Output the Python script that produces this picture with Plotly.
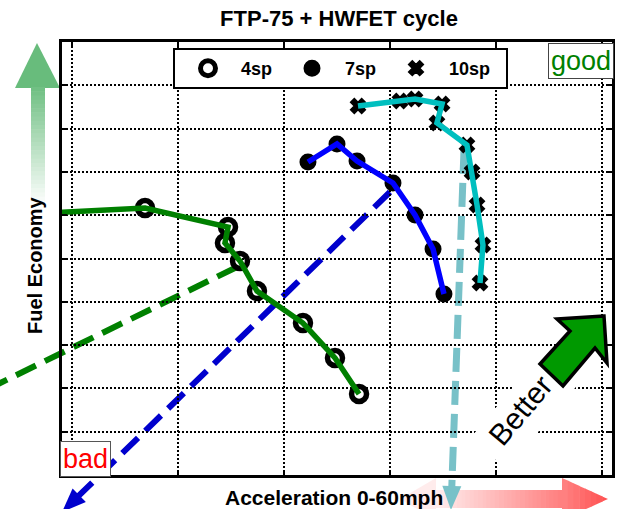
import math
import plotly.graph_objects as go

W, H = 621, 509
FONT = "Liberation Sans, Arial, sans-serif"

# ---------------- data (x: acceleration grid units, y: fuel-economy grid units) ----------------
sp4_x = [-0.40, 0.689, 1.472, 1.443, 1.585, 1.745, 2.179, 2.481, 2.708]
sp4_y = [6.03, 6.166, 5.727, 5.358, 4.942, 4.249, 3.510, 2.702, 1.871]

sp7_x = [2.226, 2.500, 2.689, 3.028, 3.236, 3.406, 3.509]
sp7_y = [7.229, 7.644, 7.252, 6.744, 6.005, 5.219, 4.180]

sp10_x = [2.698, 3.094, 3.236, 3.491, 3.443, 3.726, 3.774, 3.821, 3.877, 3.849]
sp10_y = [8.522, 8.637, 8.684, 8.568, 8.129, 7.621, 6.998, 6.236, 5.312, 4.434]

# dashed guide lines (start -> end), with or without arrow head
guide_start_x = [1.557, 3.000, 3.698]
guide_start_y = [4.804, 6.536, 7.506]
guide_end_x = [-0.774, -0.094, 3.575]
guide_end_y = [2.009, -0.855, -0.808]
guide_arrow = [False, True, True]

# ---------------- layout geometry (pixels) ----------------
GX0, GDX = 72.0, 106.0      # pixel of x=0 gridline, pixels per x unit
GY0, GDY = 475.0, 43.3      # pixel of y=0, pixels per y unit
AX_L, AX_R, AX_T, AX_B = 62, 612, 42, 475


def X(px):
    return (px - GX0) / GDX


def Y(py):
    return (GY0 - py) / GDY


def to_px(x, y):
    return GX0 + GDX * x, GY0 - GDY * y


def PX(px):
    return px / W


def PY(py):
    return 1 - py / H


GREEN = "rgb(0,128,0)"
BLUE = "rgb(0,0,255)"
CYAN = "rgb(0,191,191)"
guide_colors = [GREEN, "rgb(0,0,205)", "rgb(120,193,200)"]
guide_widths = [6, 6, 7]
guide_dash = ["22px,10px", "22px,10px", "24px,9px"]

fig = go.Figure()

# ---------------- overlay subplot (whole figure, same scale) : dashed guides ----------------
for i in range(3):
    x0, y0 = guide_start_x[i], guide_start_y[i]
    x1, y1 = guide_end_x[i], guide_end_y[i]
    ex, ey = x1, y1
    if guide_arrow[i]:
        p0 = to_px(x0, y0)
        p1 = to_px(x1, y1)
        dx, dy = p1[0] - p0[0], p1[1] - p0[1]
        n = (dx * dx + dy * dy) ** 0.5
        ux, uy = dx / n, dy / n
        L, Wd = 24, 19
        bx, by = p1[0] - L * ux, p1[1] - L * uy
        nx, ny = -uy, ux
        hx = [p1[0], bx + nx * Wd / 2, bx - nx * Wd / 2, p1[0]]
        hy = [p1[1], by + ny * Wd / 2, by - ny * Wd / 2, p1[1]]
        ex, ey = X(bx + ux * 2), Y(by + uy * 2)
        fig.add_trace(go.Scatter(
            x=[X(v) for v in hx], y=[Y(v) for v in hy], mode="lines",
            fill="toself", fillcolor=guide_colors[i], line=dict(width=0, color=guide_colors[i]),
            xaxis="x", yaxis="y", showlegend=False, hoverinfo="skip"))
    fig.add_trace(go.Scatter(
        x=[x0, ex], y=[y0, ey], mode="lines",
        line=dict(color=guide_colors[i], width=guide_widths[i], dash=guide_dash[i]),
        xaxis="x", yaxis="y", showlegend=False, hoverinfo="skip"))

# ---------------- main subplot : markers (legend) then lines on top ----------------
fig.add_trace(go.Scatter(
    x=sp4_x, y=sp4_y, mode="markers", name="4sp",
    marker=dict(symbol="circle-open", size=15, color="black", line=dict(width=5.5, color="black")),
    xaxis="x2", yaxis="y2"))
fig.add_trace(go.Scatter(
    x=sp7_x, y=sp7_y, mode="markers", name="7sp",
    marker=dict(symbol="circle", size=14, color="black", line=dict(width=3, color="black")),
    xaxis="x2", yaxis="y2"))
fig.add_trace(go.Scatter(
    x=sp10_x, y=sp10_y, mode="markers", name="10sp", legendwidth=52,
    marker=dict(symbol="x", size=13, color="black", line=dict(width=1.5, color="black")),
    xaxis="x2", yaxis="y2"))
for xs, ys, c in [(sp4_x, sp4_y, GREEN), (sp7_x, sp7_y, BLUE), (sp10_x, sp10_y, CYAN)]:
    fig.add_trace(go.Scatter(
        x=xs, y=ys, mode="lines", line=dict(color=c, width=5.5),
        xaxis="x2", yaxis="y2", showlegend=False, hoverinfo="skip"))

# ---------------- decorative shapes ----------------
shapes = []


def poly(pts, fill, lw=0, lc=None, layer="below"):
    d = "M " + " L ".join(f"{PX(a):.5f},{PY(b):.5f}" for a, b in pts) + " Z"
    shapes.append(dict(type="path", path=d, xref="paper", yref="paper",
                       fillcolor=fill, line=dict(width=lw, color=lc or fill), layer=layer))


def mix(c1, c2, t):
    return "rgb(%d,%d,%d)" % tuple(round(a + (b - a) * t) for a, b in zip(c1, c2))


# green vertical gradient arrow (left)
g_top, white = (104, 188, 124), (255, 255, 255)
poly([(37, 43), (60, 88), (15, 88)], mix(g_top, white, 0.0))
n = 28
y_a, y_b = 87.0, 205.0
for k in range(n):
    ya = y_a + (y_b - y_a) * k / n
    yb = y_a + (y_b - y_a) * (k + 1) / n + 0.6
    poly([(31, ya), (45, ya), (45, yb), (31, yb)], mix(g_top, white, 0.06 + 0.92 * k / (n - 1)))

# red horizontal gradient arrow (bottom)
r_light, r_mid, r_dark = (255, 236, 236), (255, 128, 128), (255, 82, 82)
poly([(400, 499), (436, 478), (436, 520)], mix(r_light, r_light, 0))
n = 30
xa, xb = 436.0, 562.0
for k in range(n):
    a = xa + (xb - xa) * k / n
    b = xa + (xb - xa) * (k + 1) / n + 0.6
    poly([(a, 490), (b, 490), (b, 508), (a, 508)], mix(r_light, r_mid, k / (n - 1)))
n = 8
for k in range(n):
    a = 562 + 46 * k / n
    b = 562 + 46 * (k + 1) / n + (0.5 if k < n - 1 else 0)
    ha = 21 * (608 - a) / 46
    hb = max(21 * (608 - b) / 46, 0)
    poly([(a, 499 - ha), (b, 499 - hb), (b, 499 + hb), (a, 499 + ha)], mix(r_mid, r_dark, k / (n - 1)))

# white (rotated) text box behind "Better", then the block arrow on top of it
BET_CX, BET_CY, BET_ANG = 520, 410, 50
ux, uy = math.cos(math.radians(BET_ANG)), -math.sin(math.radians(BET_ANG))
vx, vy = -uy, ux
box = []
for a, b in [(62, -20), (62, 28), (-54, 28), (-54, -20)]:
    box.append((BET_CX + a * ux + b * vx, BET_CY + a * uy + b * vy))
poly(box, "white", layer="above")
poly([(604, 316), (557, 319), (570, 331), (540, 364), (563, 386), (595, 348), (607, 363)],
     "rgb(0,153,0)", lw=3.5, lc="black", layer="above")

# ---------------- axes ----------------
axis_common = dict(showline=True, linewidth=3, linecolor="black", mirror="ticks",
                   ticks="inside", ticklen=5, tickwidth=2, tickcolor="black",
                   showticklabels=False, showgrid=True, gridcolor="black", gridwidth=1.6,
                   griddash="2px,2px", zeroline=False, fixedrange=True, dtick=1, tick0=0)

fig.update_layout(
    width=W, height=H,
    margin=dict(l=0, r=0, t=0, b=0),
    paper_bgcolor="white", plot_bgcolor="rgba(0,0,0,0)",
    xaxis=dict(domain=[0, 1], range=[X(0), X(W)], visible=False, fixedrange=True),
    yaxis=dict(domain=[0, 1], range=[Y(H), Y(0)], visible=False, fixedrange=True),
    xaxis2=dict(domain=[PX(AX_L), PX(AX_R)], range=[X(AX_L), X(AX_R)], anchor="y2", **axis_common),
    yaxis2=dict(domain=[PY(AX_B), PY(AX_T)], range=[Y(AX_B), Y(AX_T)], anchor="x2", **axis_common),
    title=dict(text="FTP-75 + HWFET cycle", x=PX(339), y=PY(18), xref="paper", yref="paper",
               xanchor="center", yanchor="middle",
               font=dict(family=FONT, size=22, color="black", weight="bold")),
    legend=dict(orientation="h", x=PX(173), y=PY(68.5), xanchor="left", yanchor="middle",
                bgcolor="white", bordercolor="black", borderwidth=2,
                itemwidth=56, entrywidth=33, entrywidthmode="pixels",
                font=dict(family=FONT, size=18, color="black", weight="bold")),
    shapes=shapes,
    showlegend=True,
)

annotations = [
    dict(text="Fuel Economy", x=PX(35), y=PY(265), textangle=-90,
         font=dict(family=FONT, size=20, color="black", weight="bold")),
    dict(text="Acceleration 0-60mph", x=PX(334), y=PY(497),
         font=dict(family=FONT, size=21, color="black", weight="bold")),
    dict(text="good", x=PX(581), y=PY(61), bgcolor="white", bordercolor="#444", borderwidth=1,
         borderpad=2, font=dict(family=FONT, size=27, color="rgb(0,128,0)")),
    dict(text="bad", x=PX(85), y=PY(459), bgcolor="white", bordercolor="#555", borderwidth=1,
         borderpad=2, font=dict(family=FONT, size=27, color="rgb(255,0,0)")),
    dict(text="Better", x=PX(BET_CX), y=PY(BET_CY), textangle=-BET_ANG,
         font=dict(family=FONT, size=30, color="black")),
]
for a in annotations:
    a.update(xref="paper", yref="paper", showarrow=False, xanchor="center", yanchor="middle")
fig.update_layout(annotations=annotations)

# the page's default 8px body margin would shift the whole figure; remove it
fig.write_html("out.html", config={"displayModeBar": False},
               post_script="document.body.style.margin='0px';")
